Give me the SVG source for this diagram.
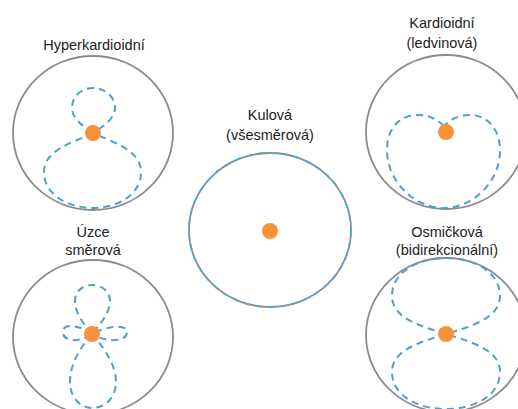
<svg xmlns="http://www.w3.org/2000/svg" width="518" height="409" viewBox="0 0 518 409">
<style>
.outer{fill:none;stroke:#8c8c8c;stroke-width:1.8}
.lobe{fill:none;stroke:#4d9fcf;stroke-width:2;stroke-dasharray:7 5;stroke-linecap:butt}
.overlay{fill:none;stroke:#5aa6d2;stroke-width:1.8;stroke-dasharray:6 6}
.dot{fill:#f7923a}
.lbl{font-family:"Liberation Sans",Arial,sans-serif;font-size:14.5px;fill:#222;text-anchor:middle}
</style>
<rect width="518" height="409" fill="#fff"/>
<g id="hyperkardioidni">
<ellipse class="outer" cx="93" cy="133" rx="80" ry="77"/>
<path class="lobe" d="M93,133 C82,126 72,118 72,108 C72,96 82,88 93,88 C104,88 115,96 115,108 C115,118 104,126 93,133"/>
<path class="lobe" d="M93,133 C72,143 44,150 44,172 C44,196 70,208 93,208 C116,208 141,196 141,172 C141,150 114,143 93,133"/>
<circle class="dot" cx="93" cy="133" r="8"/>
<text class="lbl" x="94" y="50">Hyperkardioidní</text>
</g>
<g id="kardioidni">
<ellipse class="outer" cx="446" cy="132" rx="80" ry="77"/>
<path class="lobe" d="M444,126 C435,118 428,115 418,115 C398,115 387,130 387,150 C387,182 415,208 444,208 C473,208 500,182 500,150 C500,130 488,115 470,115 C460,115 452,118 444,126"/>
<circle class="dot" cx="446" cy="132" r="8"/>
<text class="lbl" x="442" y="28">Kardioidní</text>
<text class="lbl" x="442" y="48">(ledvinová)</text>
</g>
<g id="kulova">
<ellipse class="outer" cx="270" cy="230" rx="81" ry="77"/>
<ellipse class="overlay" cx="270" cy="230" rx="81" ry="77"/>
<circle class="dot" cx="270" cy="231" r="8"/>
<text class="lbl" x="270" y="120">Kulová</text>
<text class="lbl" x="270" y="140">(všesměrová)</text>
</g>
<g id="uzce-smerova">
<ellipse class="outer" cx="93" cy="337" rx="80" ry="77"/>
<path class="lobe" d="M92,334 C82,322 75,312 75,301 C75,291 83,285 92,285 C101,285 110,291 110,301 C110,312 102,322 92,334"/>
<path class="lobe" d="M92,334 C78,350 70,366 70,382 C70,399 82,408 92,408 C104,408 116,399 116,382 C116,366 106,350 92,334"/>
<path class="lobe" d="M92,334 C82,326 63,322 63,332 C63,343 82,342 92,334 C104,327 127,323 127,332 C127,343 104,342 92,334"/>
<circle class="dot" cx="92" cy="334" r="8"/>
<text class="lbl" x="93" y="237">Úzce</text>
<text class="lbl" x="93" y="255">směrová</text>
</g>
<g id="osmickova">
<ellipse class="outer" cx="446" cy="335" rx="80" ry="77"/>
<path class="lobe" d="M446,334 C420,326 392,318 392,296 C392,272 418,258 446,258 C474,258 500,272 500,296 C500,318 472,326 446,334"/>
<path class="lobe" d="M446,334 C420,342 392,350 392,372 C392,396 418,409 446,409 C474,409 500,396 500,372 C500,350 472,342 446,334"/>
<circle class="dot" cx="446" cy="334" r="8"/>
<text class="lbl" x="447" y="237">Osmičková</text>
<text class="lbl" x="447" y="255">(bidirekcionální)</text>
</g>
<g id="connectors"/>
</svg>
